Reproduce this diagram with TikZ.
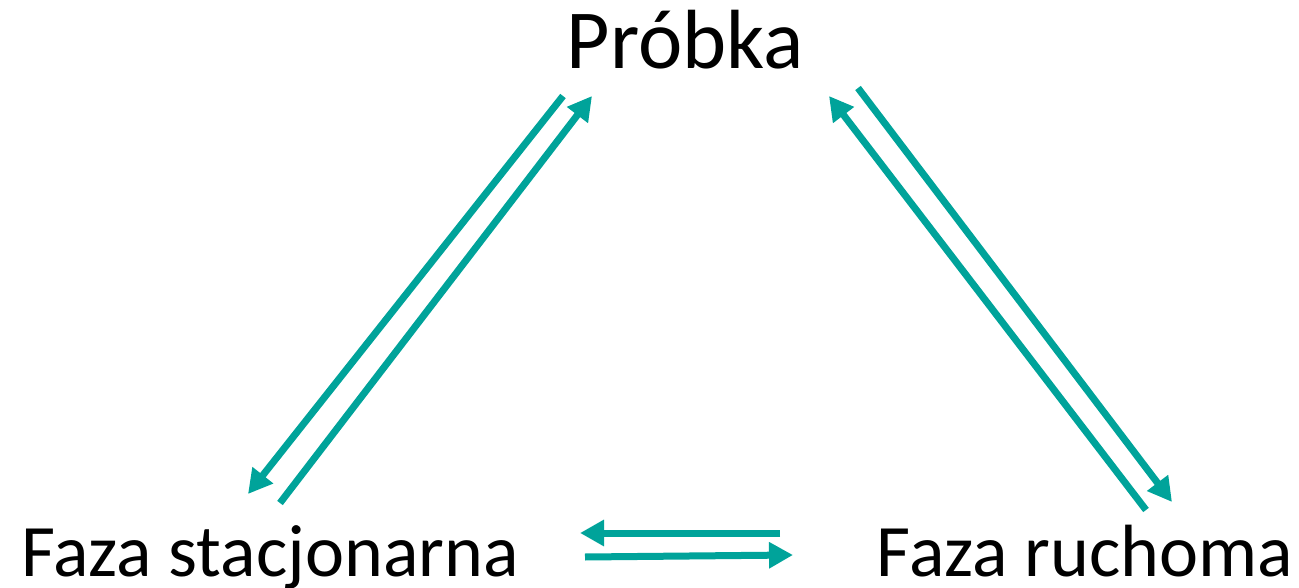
\documentclass[tikz,border=0pt]{standalone}
\usepackage{fontspec}
\setmainfont{Carlito}
\usetikzlibrary{arrows.meta}
\definecolor{flow}{RGB}{0,163,154}
\tikzset{
  label/.style={anchor=base, inner sep=0pt, text=black},
  flowarrow/.style={draw=flow, line width=7pt, -{Triangle[length=24pt,width=25pt]}},
}
\begin{document}
\begin{tikzpicture}[x=1pt, y=-1pt]
  \useasboundingbox (0,0) rectangle (1299,588);

  % the three phases
  \node[label, font=\fontsize{84}{94}\selectfont] (P) at (685,69) {Próbka};
  \node[label, font=\fontsize{74}{82}\selectfont] (S) at (270,576) {Faza stacjonarna};
  \node[label, font=\fontsize{74}{82}\selectfont] (R) at (1085,576) {Faza ruchoma};

  % arrow ends between sample and stationary phase
  \coordinate (ps1) at (563,96);
  \coordinate (ps2) at (248,494);
  \coordinate (sp1) at (280,503);
  \coordinate (sp2) at (592,96);
  % arrow ends between sample and mobile phase
  \coordinate (pr1) at (858,88);
  \coordinate (pr2) at (1172,502);
  \coordinate (rp1) at (1146,510);
  \coordinate (rp2) at (829,96);
  % arrow ends between the two phases
  \coordinate (rs1) at (780,533);
  \coordinate (rs2) at (580,533);
  \coordinate (sr1) at (585,557);
  \coordinate (sr2) at (793,555);

  \draw[flowarrow] (ps1) -- (ps2);
  \draw[flowarrow] (sp1) -- (sp2);
  \draw[flowarrow] (pr1) -- (pr2);
  \draw[flowarrow] (rp1) -- (rp2);
  \draw[flowarrow] (rs1) -- (rs2);
  \draw[flowarrow] (sr1) -- (sr2);
\end{tikzpicture}
\end{document}
